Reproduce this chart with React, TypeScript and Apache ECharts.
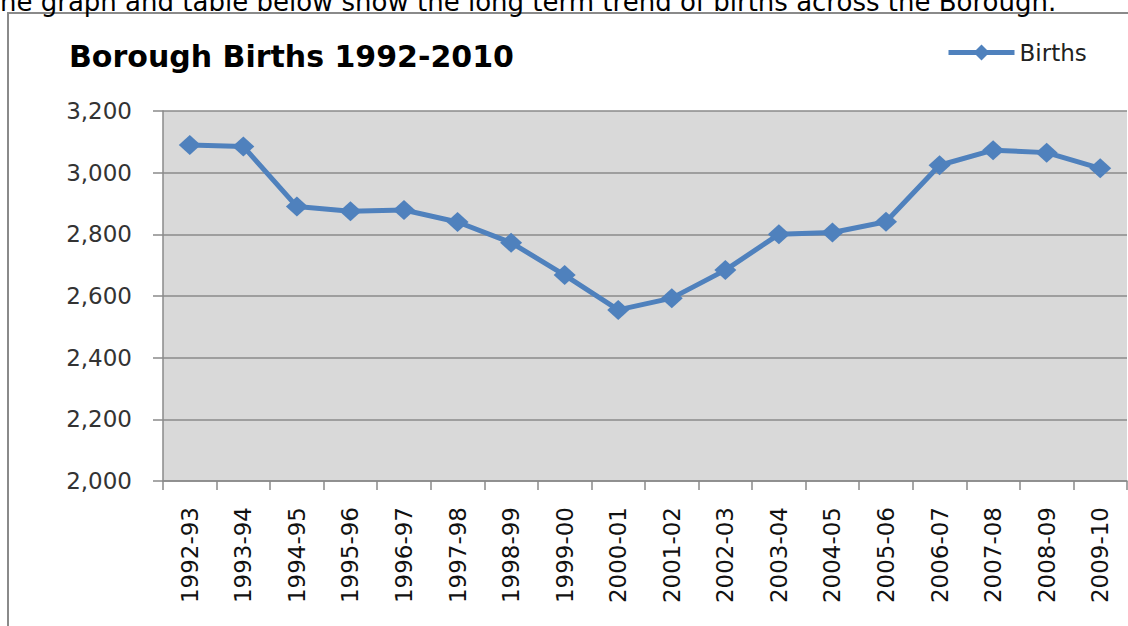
import React, { useEffect, useRef } from "react";
import * as echarts from "echarts";

const categories = [
  "1992-93", "1993-94", "1994-95", "1995-96", "1996-97", "1997-98",
  "1998-99", "1999-00", "2000-01", "2001-02", "2002-03", "2003-04",
  "2004-05", "2005-06", "2006-07", "2007-08", "2008-09", "2009-10",
];
const births = [
  3090, 3085, 2890, 2875, 2879, 2840, 2773, 2668, 2555, 2593, 2684, 2800,
  2806, 2841, 3024, 3073, 3065, 3014,
];
const titleText = "Borough Births 1992-2010";
const captionText = "he graph and table below show the long term trend of births across the Borough.";
const seriesName = "Births";

export default function App() {
  const ref = useRef<HTMLDivElement>(null);
  useEffect(() => {
    document.body.style.margin = "0";
    const chart = echarts.init(ref.current!, null, { renderer: "svg" });
    const font = "DejaVu Sans";
    chart.setOption({
      animation: false,
      backgroundColor: "#ffffff",
      textStyle: { fontFamily: font },
      graphic: [
        {
          type: "text",
          x: 0,
          y: 15,
          style: {
            text: captionText,
            font: "26px 'DejaVu Sans'",
            fill: "#000",
            verticalAlign: "bottom",
          } as any,
          silent: true,
        },
        {
          type: "rect",
          shape: { x: 8, y: 13, width: 1200, height: 700 },
          style: { fill: "#ffffff", stroke: "#8a8a8a", lineWidth: 2 },
          silent: true,
          z: -10,
        },
      ],
      title: {
        text: titleText,
        left: 64,
        top: 36,
        textStyle: { fontFamily: font, fontWeight: "bold", fontSize: 30, color: "#000" },
      },
      legend: {
        left: 941,
        top: 36,
        itemWidth: 66,
        itemHeight: 20,
        itemGap: 6,
        lineStyle: { width: 5 },
        textStyle: { fontFamily: font, fontSize: 23, color: "#222" },
        data: [seriesName],
      },
      grid: { left: 163, right: 1, top: 111, bottom: 145, show: true, backgroundColor: "#d9d9d9", borderWidth: 0 },
      xAxis: {
        type: "category",
        data: categories,
        boundaryGap: true,
        axisLine: { lineStyle: { color: "#8a8a8a", width: 1.5 } },
        axisTick: { show: true, length: 9, alignWithLabel: false, lineStyle: { color: "#8a8a8a", width: 1.5 } },
        axisLabel: { rotate: 90, margin: 26, interval: 0, fontFamily: font, fontSize: 23, color: "#111" },
      },
      yAxis: {
        type: "value",
        min: 2000,
        max: 3200,
        interval: 200,
        axisLine: { show: true, lineStyle: { color: "#8a8a8a", width: 1.5 } },
        axisTick: { show: true, length: 10, lineStyle: { color: "#8a8a8a", width: 1.5 } },
        splitLine: { lineStyle: { color: "#8a8a8a", width: 1.5 } },
        axisLabel: {
          margin: 31,
          fontFamily: font,
          fontSize: 23,
          color: "#333",
          formatter: (v: number) => v.toLocaleString("en-US"),
        },
      },
      series: [
        {
          name: seriesName,
          type: "line",
          data: births,
          symbol: "diamond",
          symbolSize: [22, 20],
          lineStyle: { color: "#4f81bd", width: 5 },
          itemStyle: { color: "#4f81bd" },
        },
      ],
    });
    return () => chart.dispose();
  }, []);
  return <div ref={ref} style={{ width: 1128, height: 626 }} />;
}
